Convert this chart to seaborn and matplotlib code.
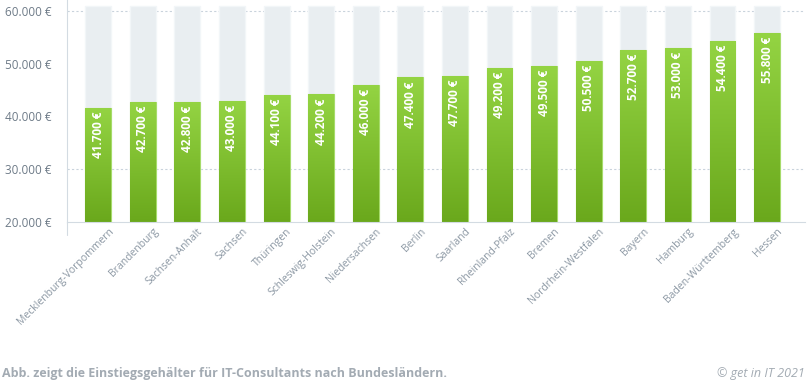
import numpy as np
import pandas as pd
import matplotlib
matplotlib.use('Agg')
import matplotlib.pyplot as plt
import matplotlib.transforms as mtrans
import seaborn as sns

# Daten
laender = ['Mecklenburg-Vorpommern', 'Brandenburg', 'Sachsen-Anhalt', 'Sachsen', 'Thüringen',
           'Schleswig-Holstein', 'Niedersachsen', 'Berlin', 'Saarland', 'Rheinland-Pfalz',
           'Bremen', 'Nordrhein-Westfalen', 'Bayern', 'Hamburg', 'Baden-Württemberg', 'Hessen']
gehalt = [41700, 42700, 42800, 43000, 44100, 44200, 46000, 47400, 47700, 49200,
          49500, 50500, 52700, 53000, 54400, 55800]
hintergrund = 61000
y_ticks = [20000, 30000, 40000, 50000, 60000]

df = pd.DataFrame({'land': laender, 'gehalt': gehalt, 'max': [hintergrund] * len(laender)})

sns.set_style('white')
plt.rcParams['font.family'] = ['Open Sans', 'DejaVu Sans']

fig = plt.figure(figsize=(8.08, 3.82), dpi=100)
ax = fig.add_axes([67 / 808, 1 - 222 / 382, (805 - 67) / 808, 222 / 382])

# Hintergrundbalken
sns.barplot(data=df, x='land', y='max', color='#e8eef2', width=0.58, ax=ax,
            edgecolor='#f2f6f8', linewidth=1, zorder=1)
# Grüne Balken
sns.barplot(data=df, x='land', y='gehalt', color='#82c232', width=0.58, ax=ax,
            edgecolor='#a6db6a', linewidth=0.8, zorder=2)

# Farbverlauf über die grünen Balken legen
grad = np.linspace(0, 1, 256).reshape(-1, 1)
cmap = matplotlib.colors.LinearSegmentedColormap.from_list('g', ['#6aa81c', '#94d443'])
green_bars = ax.patches[len(laender):]
for p in green_bars:
    x0, w, h = p.get_x(), p.get_width(), p.get_height()
    im = ax.imshow(grad, cmap=cmap, aspect='auto', origin='lower',
                   extent=[x0, x0 + w, 20000, h], zorder=2.5)
    im.set_clip_path(p)

ax.set_xlim(-0.7, len(laender) - 1 + 0.85)
ax.set_ylim(20000, 62085)

# Werte in den Balken
for i, v in enumerate(gehalt):
    ax.text(i, v - 700, f'{v:,.0f} €'.replace(',', '.'), rotation=90, ha='center', va='top',
            color='white', fontsize=8.5, fontweight='bold', zorder=4)

# Gitter nur bei 30.000 und 60.000
for g in [30000, 60000]:
    ax.axhline(g, color='#c9d3dc', linestyle=(0, (2, 2)), linewidth=0.8, zorder=0)

ax.set_yticks(y_ticks)
ax.set_yticklabels([f'{t:,.0f} €'.replace(',', '.') for t in y_ticks], color='#6e7b88', fontsize=8.5)
ax.tick_params(axis='y', length=0, pad=11)
ax.tick_params(axis='x', length=0, pad=3)
ax.set_xticks(range(len(laender)))
ax.set_xticklabels(laender, rotation=45, ha='right', rotation_mode='anchor',
                   color='#8b97a3', fontsize=7.5)
shift = mtrans.ScaledTranslation(10 / 100, 0, fig.dpi_scale_trans)
for lbl in ax.get_xticklabels():
    lbl.set_transform(lbl.get_transform() + shift)
ax.set_xlabel('')
ax.set_ylabel('')

for s in ['top', 'right']:
    ax.spines[s].set_visible(False)
ax.spines['left'].set_color('#d3dbe2')
ax.spines['bottom'].set_color('#d3dbe2')
ax.plot([0, 0], [0, -0.06], transform=ax.transAxes, color='#d3dbe2', lw=0.8, clip_on=False)

fig.text(2 / 808, 1 - 373 / 382, 'Abb. zeigt die Einstiegsgehälter für IT-Consultants nach Bundesländern.',
         color='#a3abb3', fontsize=9, fontweight='bold', va='center', ha='left')
fig.text(805 / 808, 1 - 373 / 382, '© get in IT 2021', color='#a3abb3', fontsize=9,
         style='italic', va='center', ha='right')

fig.savefig('out.png', dpi=100)
